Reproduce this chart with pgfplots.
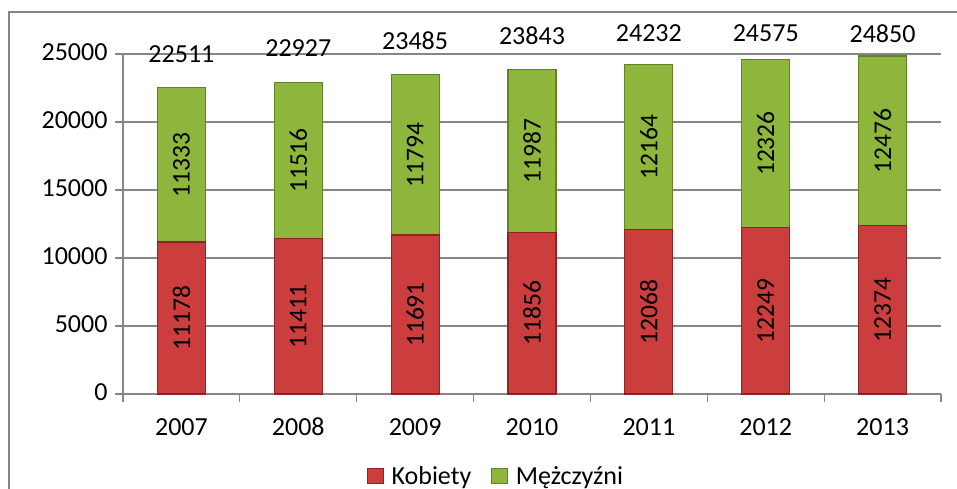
\documentclass[border=0pt]{standalone}
\usepackage{pgfplots}
\pgfplotsset{compat=1.18}
\usepackage{pgfplotstable}
\usepackage{fontspec}
\setmainfont{Carlito}
\definecolor{gridgray}{RGB}{134,134,134}
\definecolor{redfill}{RGB}{204,62,62}
\definecolor{redborder}{RGB}{140,36,36}
\definecolor{greenfill}{RGB}{142,182,60}
\definecolor{greenborder}{RGB}{100,130,36}

\pgfplotstableread{
x year k m t
0 2007 11178 11333 22511
1 2008 11411 11516 22927
2 2009 11691 11794 23485
3 2010 11856 11987 23843
4 2011 12068 12164 24232
5 2012 12249 12326 24575
6 2013 12374 12476 24850
}\data

\pgfplotsset{
  common/.style={
    width=818bp, height=340bp, scale only axis,
    at={(123bp,95bp)}, anchor=south west,
    xmin=-0.5, xmax=6.5, ymin=0, ymax=25000,
  },
}

\begin{document}
\begin{tikzpicture}
\useasboundingbox (0,0) rectangle (957bp,489bp);
\draw[gridgray, line width=1.2bp] (9bp,-10bp) -- (9bp,477bp) -- (970bp,477bp);

\begin{axis}[common,
  ybar stacked, bar width=48bp,
  axis lines=left,
  axis line style={gridgray, line width=1.2bp, -},
  ymajorgrids,
  major grid style={gridgray, line width=1.2bp},
  ytick={0,5000,...,25000},
  scaled y ticks=false,
  xtick={0,...,6},
  xticklabels={2007,2008,2009,2010,2011,2012,2013},
  minor xtick={-0.5,0.5,...,6.5},
  tick align=outside,
  major tick length=8bp,
  minor tick length=8bp,
  major x tick style={draw=none},
  ytick style={gridgray, line width=1.2bp},
  minor x tick style={gridgray, line width=1.2bp},
  /pgf/number format/.cd, fixed, precision=0, 1000 sep={}, assume math mode=true, /pgfplots/.cd,
  typeset ticklabels with strut,
  tick label style={font=\fontsize{26bp}{31bp}\selectfont, black},
  yticklabel style={xshift=-4bp},
  xticklabel style={yshift=-8bp},
  legend style={at={(0.456,-0.241)}, anchor=center, draw=none,
    font=\fontsize{26bp}{31bp}\selectfont, legend columns=-1,
    /tikz/every even column/.append style={column sep=18bp}},
  legend image code/.code={\path[draw=none,fill=none] (0bp,0bp) -- (22bp,0bp); \path[#1] (0bp,-7.5bp) rectangle (16bp,7.5bp);},
]
\addplot[draw=redborder, line width=1.2bp, fill=redfill] table[x=x,y=k]{\data};
\addplot[draw=greenborder, line width=1.2bp, fill=greenfill] table[x=x,y=m]{\data};
\legend{Kobiety, Mężczyźni}
\end{axis}

\begin{axis}[common, hide axis, clip=false,
  /pgf/number format/.cd, fixed, precision=0, 1000 sep={}, assume math mode=true, /pgfplots/.cd,
]
\addplot[draw=none, mark=none, point meta=explicit, nodes near coords,
  every node near coord/.style={rotate=90, anchor=center, black, font=\fontsize{25.5bp}{30bp}\selectfont}]
  table[x=x, y expr=\thisrow{k}/2, meta=k]{\data};
\addplot[draw=none, mark=none, point meta=explicit, nodes near coords,
  every node near coord/.style={rotate=90, anchor=center, black, font=\fontsize{25.5bp}{30bp}\selectfont}]
  table[x=x, y expr=\thisrow{k}+\thisrow{m}/2, meta=m]{\data};
\addplot[draw=none, mark=none, point meta=explicit, nodes near coords,
  every node near coord/.style={anchor=center, black, font=\fontsize{26bp}{31bp}\selectfont}]
  table[x=x, y expr={min(\thisrow{t}+2500,26500)}, meta=t]{\data};
\end{axis}
\end{tikzpicture}
\end{document}
